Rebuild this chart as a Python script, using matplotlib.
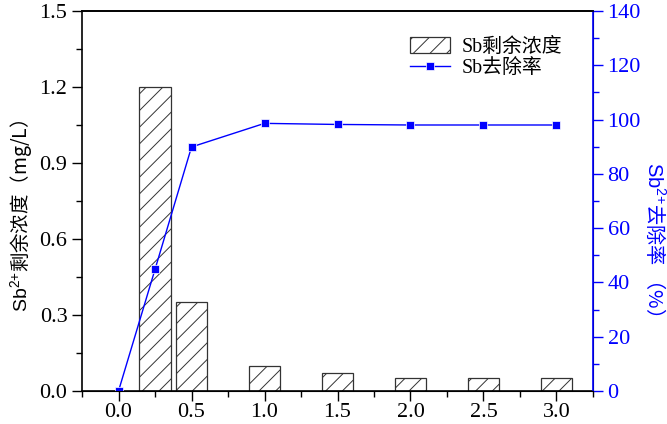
import matplotlib
matplotlib.use("Agg")
import matplotlib.pyplot as plt
from matplotlib.ticker import MultipleLocator

plt.rcParams['font.family'] = ['Liberation Serif', 'Noto Sans CJK SC']
plt.rcParams['hatch.linewidth'] = 0.7
plt.rcParams['mathtext.fontset'] = 'custom'
plt.rcParams['mathtext.rm'] = 'Liberation Sans'
plt.rcParams['mathtext.it'] = 'Liberation Sans'

# dosage / time points
x_bar = [0.25, 0.5, 1.0, 1.5, 2.0, 2.5, 3.0]
residual = [1.20, 0.35, 0.10, 0.07, 0.05, 0.05, 0.05]

x_line = [0.0, 0.25, 0.5, 1.0, 1.5, 2.0, 2.5, 3.0]
removal = [0.0, 44.8, 89.9, 98.6, 98.2, 98.0, 98.0, 98.0]

xticks = [0.0, 0.5, 1.0, 1.5, 2.0, 2.5, 3.0]

fig = plt.figure(figsize=(6.67, 4.24), dpi=100)
ax = fig.add_axes([0.123, 0.078, 0.766, 0.896])
ax2 = ax.twinx()

bars = ax.bar(x_bar, residual, width=0.215, facecolor='white', edgecolor='#333333',
              linewidth=0.9, hatch='//', label='Sb剩余浓度')
line, = ax2.plot(x_line, removal, color='blue', linewidth=1.0, marker='s',
                 markersize=6, markeredgecolor='white', markeredgewidth=0.5,
                 label='Sb去除率')

ax.set_xlim(-0.25, 3.25)
ax.set_ylim(0, 1.5)
ax2.set_ylim(0, 140)

ax.set_xticks(xticks)
ax.set_xticklabels([f'{v:.1f}' for v in xticks])
ax.xaxis.set_minor_locator(MultipleLocator(0.25))
ax.set_yticks([0.0, 0.3, 0.6, 0.9, 1.2, 1.5])
ax.yaxis.set_minor_locator(MultipleLocator(0.15))
ax2.set_yticks(range(0, 141, 20))
ax2.yaxis.set_minor_locator(MultipleLocator(10))

ax.tick_params(axis='both', which='major', direction='out', length=7, width=1,
               labelsize=16)
ax.tick_params(axis='both', which='minor', direction='out', length=4, width=1)
ax.tick_params(axis='x', pad=2)
ax2.tick_params(axis='y', which='major', direction='out', length=7, width=1,
                labelsize=16, colors='blue')
ax2.tick_params(axis='y', which='minor', direction='out', length=4, width=1,
                colors='blue')

for s in ['left', 'bottom', 'top']:
    ax.spines[s].set_linewidth(1.2)
ax2.spines['right'].set_color('blue')
ax2.spines['right'].set_linewidth(1.2)
ax2.spines['left'].set_visible(False)
ax2.spines['top'].set_linewidth(1.2)

ax.set_ylabel(r'$\mathrm{Sb}^{2{+}}$剩余浓度（mg/L）', fontsize=14,
              family='Noto Sans CJK SC')
ax.yaxis.set_label_coords(-0.095, 0.46)
ax2.set_ylabel(r'$\mathrm{Sb}^{2{+}}$去除率 （%）', fontsize=14.5, color='blue',
               rotation=270, family='Noto Sans CJK SC', va='center')
ax2.yaxis.set_label_coords(1.12, 0.40)

ax.set_zorder(ax2.get_zorder() - 1)
ax2.patch.set_visible(False)

fig.legend([bars, line], ['Sb剩余浓度', 'Sb去除率'], loc='upper left',
           bbox_to_anchor=(0.588, 0.955), frameon=False, fontsize=14.3,
           handlelength=2.0, handleheight=0.9, labelspacing=0.05,
           handletextpad=0.6)

fig.savefig('out.png', dpi=100)
